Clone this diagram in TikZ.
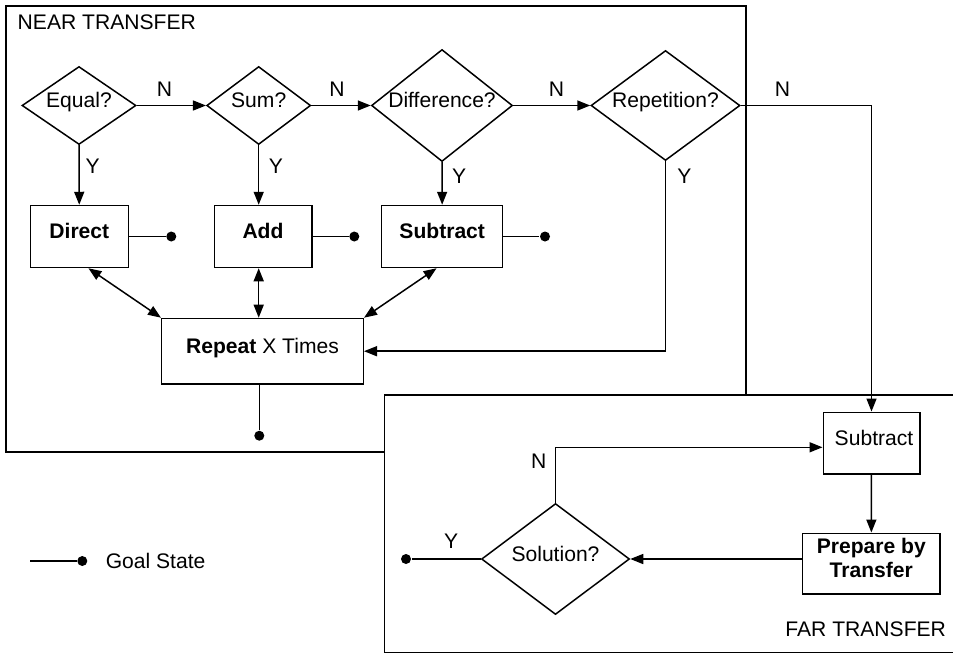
\documentclass[tikz,border=0pt]{standalone}
\usepackage{fontspec}
\setmainfont{Liberation Sans}
\usetikzlibrary{shapes.geometric,arrows.meta,positioning}

\begin{document}
\begin{tikzpicture}[line width=.85pt,font=\fontsize{12}{14}\selectfont,
  test/.style={diamond,draw,aspect=1.35,inner sep=0pt,text height=6.5pt,text depth=4pt},
  cell/.style={rectangle,draw,inner sep=0pt},
  box/.style={cell,text height=6.5pt,text depth=4pt},
  goal/.style={circle,fill,inner sep=0pt,minimum size=2mm},
  arr/.style={-{Triangle[length=2.6mm,width=2mm]}},
  darr/.style={{Triangle[length=2.6mm,width=2mm]}-{Triangle[length=2.6mm,width=2mm]}},
  panel/.style={line width=1pt}]
\useasboundingbox (0,0) rectangle (19.06,-13.1);
% near transfer
\draw[panel] (0.114,-0.114) rectangle (14.914,-9.04);
\node[anchor=west,inner sep=0pt] (nearlabel) at (0.34,-0.44) {NEAR TRANSFER};
% far transfer
\fill[white] (7.69,-7.9) rectangle (19.06,-13.05);
\draw[panel] (19.06,-7.9) -- (7.69,-7.9) -- (7.69,-13.05) -- (19.06,-13.05);
\node[anchor=east,inner sep=0pt] (farlabel) at (18.934,-12.586) {FAR TRANSFER};

\node[test,minimum width=2.28cm,minimum height=1.56cm] (equal) at (1.58,-2.11) {Equal?};
\node[test,minimum width=2.08cm,minimum height=1.56cm] (sum) at (5.174,-2.11) {Sum?};
\node[test,minimum width=2.82cm,minimum height=2.24cm] (diff) at (8.84,-2.11) {Difference?};
\node[test,minimum width=2.98cm,minimum height=2.2cm] (rept) at (13.31,-2.11) {Repetition?};
\node[test,minimum width=2.96cm,minimum height=2.22cm] (sol) at (11.11,-11.18) {Solution?};

\node[box,minimum width=1.96cm,minimum height=1.24cm] (direct) at (1.586,-4.73) {\textbf{Direct}};
\node[box,minimum width=1.95cm,minimum height=1.24cm] (add) at (5.26,-4.73) {\textbf{Add}};
\node[box,minimum width=2.42cm,minimum height=1.24cm] (subnear) at (8.844,-4.73) {\textbf{Subtract}};
\node[box,minimum width=4.03cm,minimum height=1.31cm] (repeat) at (5.25,-7.024) {\textbf{Repeat} X Times};
\node[box,minimum width=1.93cm,minimum height=1.23cm] (subfar) at (17.43,-8.86) {\hspace{1mm}Subtract};
\node[cell,minimum width=2.75cm,minimum height=1.21cm] (prep) at (17.426,-11.27) {};
\node[align=center,font=\fontsize{12}{13.5}\selectfont\bfseries,yshift=1.1mm] (preptext) at (prep) {Prepare by\\Transfer};

\node[goal] (gdirect) at (3.426,-4.73) {};
\node[goal] (gadd) at (7.086,-4.73) {};
\node[goal] (gsub) at (10.9,-4.73) {};
\node[goal] (grepeat) at (5.186,-8.714) {};
\node[goal] (gsol) at (8.12,-11.18) {};
% legend
\node[goal] (glegend) at (1.646,-11.22) {};
\coordinate (lstart) at (0.6,-11.22);
\node[inner sep=0pt,right=3.4mm of glegend] (legend) {Goal State};
\draw (lstart) -- (glegend);

\draw[arr] (equal) -- node[above=1.5pt,pos=.4] (n1) {N} (sum);
\draw[arr] (sum) -- node[above=1.5pt,pos=.43] (n2) {N} (diff);
\draw[arr] (diff) -- node[above=1.5pt,pos=.56] (n3) {N} (rept);
\draw[arr] (rept.east) -| node[above=1.5pt,pos=.16] (n4) {N} (subfar.north);

\draw[arr] (equal) -- node[right,pos=.35] (y1) {Y} (direct);
\draw[arr] (sum.south) -- node[right=2pt,pos=.35] (y2) {Y} (sum.south |- add.north);
\draw[arr] (diff) -- node[right=2pt,pos=.34] (y3) {Y} (subnear);
\draw[arr] (rept.south) |- node[right=3pt,pos=.04] (y4) {Y} (repeat.east);

\draw[darr] (direct.-74) -- (repeat.north west);
\draw[darr] (sum.south |- add.south) -- (sum.south |- repeat.north);
\draw[darr] (subnear.-100) -- (repeat.north east);

\draw (direct) -- (gdirect);
\draw (add) -- (gadd);
\draw (subnear) -- (gsub);
\draw (repeat.south -| grepeat) -- (grepeat);

\draw[arr] (sol.north) |- node[left=1.5pt,pos=.37] (n5) {N} (subfar.185);
\draw[arr] (subfar) -- (prep);
\draw[arr] (prep.west |- sol.east) -- (sol.east);
\draw (sol) -- node[above=2pt,pos=.43] (y5) {Y} (gsol);
\end{tikzpicture}
\end{document}
